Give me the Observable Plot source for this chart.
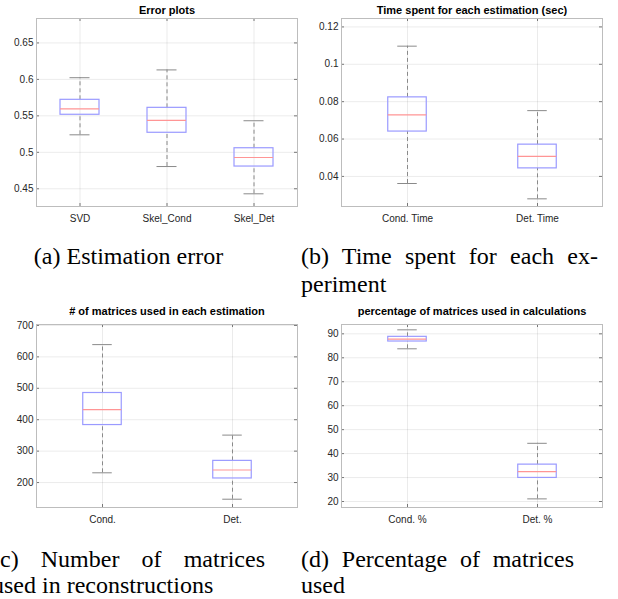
<!DOCTYPE html>
<html><head><meta charset="utf-8">
<script src="https://cdn.jsdelivr.net/npm/d3@7"></script>
<script src="https://cdn.jsdelivr.net/npm/@observablehq/plot@0.6"></script>
<style>
body{margin:0;background:#fff;}
#fig{position:relative;width:618px;height:599px;overflow:hidden;background:#fff;}
.panel{position:absolute;}
.cap{position:absolute;font-family:"Liberation Serif","Times New Roman",serif;font-size:24px;line-height:28px;color:#000;}
.just{text-align:justify;text-align-last:justify;}
</style></head><body><div id="fig"></div><script>
// (a) Estimation error
const errCats = ["SVD", "Skel_Cond", "Skel_Det"];
const errLow  = [0.524, 0.4805, 0.4431];
const errQ1   = [0.5515, 0.5268, 0.4805];
const errMed  = [0.5597, 0.5437, 0.4929];
const errQ3   = [0.572, 0.561, 0.5056];
const errHigh = [0.6023, 0.613, 0.5433];
const errTicks = [0.45, 0.5, 0.55, 0.6, 0.65];

// (b) Time spent
const timeCats = ["Cond. Time", "Det. Time"];
const timeLow  = [0.0362, 0.028];
const timeQ1   = [0.064, 0.0443];
const timeMed  = [0.0729, 0.0507];
const timeQ3   = [0.0823, 0.057];
const timeHigh = [0.1097, 0.0752];
const timeTicks = [0.04, 0.06, 0.08, 0.1, 0.12];

// (c) Number of matrices
const countCats = ["Cond.", "Det."];
const countLow  = [231, 147];
const countQ1   = [383, 213];
const countMed  = [432, 240];
const countQ3   = [485, 269];
const countHigh = [639, 351];
const countTicks = [200, 300, 400, 500, 600, 700];

// (d) Percentage of matrices
const pctCats = ["Cond. %", "Det. %"];
const pctLow  = [83.75, 21.1];
const pctQ1   = [86.8, 29.85];
const pctMed  = [87.8, 32.5];
const pctQ3   = [88.75, 35.4];
const pctHigh = [91.67, 44.3];
const pctTicks = [20, 30, 40, 50, 60, 70, 80, 90];

const titles = ["Error plots", "Time spent for each estimation (sec)", "# of matrices used in each estimation", "percentage of matrices used in calculations"];

function panel(o) {
  const {cats, low, q1, med, q3, high, ticks, domain, title, width, height, ml, mr, mt, mb, titleDy} = o;
  const data = cats.map((c, i) => ({c, low: low[i], q1: q1[i], med: med[i], q3: q3[i], high: high[i]}));
  const pw = width - ml - mr, ph = height - mt - mb;
  const bw = pw / cats.length;
  const boxInset = (bw - 39) / 2, capInset = (bw - 20) / 2;
  const grid = {stroke: "#000", strokeOpacity: 0.08};
  return Plot.plot({
    width, height, marginLeft: ml, marginRight: mr, marginTop: mt, marginBottom: mb,
    style: {fontFamily: "'Liberation Sans', Arial, sans-serif", fontSize: "10px", color: "#262626", background: "transparent", overflow: "visible"},
    x: {type: "band", domain: cats, padding: 0, label: null},
    y: {domain, label: null},
    marks: [
      Plot.ruleX(cats, grid),
      Plot.ruleY(ticks, grid),
      Plot.ruleY(ticks, {stroke: "#777", insetRight: pw - 3}),
      Plot.ruleY(ticks, {stroke: "#777", insetLeft: pw - 3}),
      Plot.ruleX(cats, {stroke: "#777", insetTop: ph - 3}),
      Plot.ruleX(cats, {stroke: "#777", insetBottom: ph - 3}),
      Plot.frame({stroke: "#bdbdbd"}),
      Plot.ruleX(data, {x: "c", y1: "q3", y2: "high", stroke: "#8a8a8a", strokeDasharray: "4,3"}),
      Plot.ruleX(data, {x: "c", y1: "low", y2: "q1", stroke: "#8a8a8a", strokeDasharray: "4,3"}),
      Plot.tickY(data, {x: "c", y: "high", stroke: "#8a8a8a", insetLeft: capInset, insetRight: capInset}),
      Plot.tickY(data, {x: "c", y: "low", stroke: "#8a8a8a", insetLeft: capInset, insetRight: capInset}),
      Plot.barY(data, {x: "c", y1: "q1", y2: "q3", fill: "none", stroke: "#9a9aff", strokeWidth: 1.2, insetLeft: boxInset, insetRight: boxInset}),
      Plot.tickY(data, {x: "c", y: "med", stroke: "#ff9595", strokeWidth: 1.2, insetLeft: boxInset, insetRight: boxInset}),
      Plot.axisY(ticks, {tickSize: 0, tickPadding: 3, tickFormat: d => String(d)}),
      Plot.axisX({tickSize: 0, tickPadding: 8}),
      Plot.text([title], {frameAnchor: "top", lineAnchor: "bottom", dy: titleDy, fontWeight: "bold", fontSize: 11, fill: "#000"})
    ]
  });
}

const fig = document.getElementById("fig");
function place(node, left, top) {
  node.classList.add("panel");
  node.style.left = left + "px";
  node.style.top = top + "px";
  fig.appendChild(node);
}

place(panel({cats: errCats, low: errLow, q1: errQ1, med: errMed, q3: errQ3, high: errHigh, ticks: errTicks,
  domain: [0.4257, 0.6835], title: titles[0], width: 309, height: 228, ml: 36, mr: 12, mt: 18, mb: 22, titleDy: -5}), 0, 0);
place(panel({cats: timeCats, low: timeLow, q1: timeQ1, med: timeMed, q3: timeQ3, high: timeHigh, ticks: timeTicks,
  domain: [0.0239, 0.1245], title: titles[1], width: 309, height: 228, ml: 32, mr: 16, mt: 18, mb: 22, titleDy: -5}), 309, 0);
place(panel({cats: countCats, low: countLow, q1: countQ1, med: countMed, q3: countQ3, high: countHigh, ticks: countTicks,
  domain: [120.6, 703], title: titles[2], width: 309, height: 238, ml: 36, mr: 12, mt: 34, mb: 21, titleDy: -9.5}), 0, 290);
place(panel({cats: pctCats, low: pctLow, q1: pctQ1, med: pctMed, q3: pctQ3, high: pctHigh, ticks: pctTicks,
  domain: [17.5, 93.9], title: titles[3], width: 309, height: 238, ml: 32, mr: 16, mt: 34, mb: 21, titleDy: -9.5}), 309, 290);

const caps = [
  {text: "(a) Estimation error", left: -8, top: 242, width: 273, cls: "", align: "center"},
  {text: "(b) Time spent for each ex-", left: 301, top: 242, width: 297, cls: "just"},
  {text: "periment", left: 301, top: 270, width: 297, cls: ""},
  {text: "(c) Number of matrices", left: -8, top: 545, width: 273, cls: "just"},
  {text: "used in reconstructions", left: -8, top: 574, width: 273, cls: "", lh: 22},
  {text: "(d) Percentage of matrices", left: 301, top: 545, width: 273, cls: "just"},
  {text: "used", left: 301, top: 574, width: 273, cls: "", lh: 22}
];
for (const c of caps) {
  const d = document.createElement("div");
  d.className = "cap " + c.cls;
  d.textContent = c.text;
  d.style.left = c.left + "px";
  d.style.top = c.top + "px";
  d.style.width = c.width + "px";
  if (c.lh) d.style.lineHeight = c.lh + "px";
  if (c.align) d.style.textAlign = c.align;
  fig.appendChild(d);
}
</script></body></html>
